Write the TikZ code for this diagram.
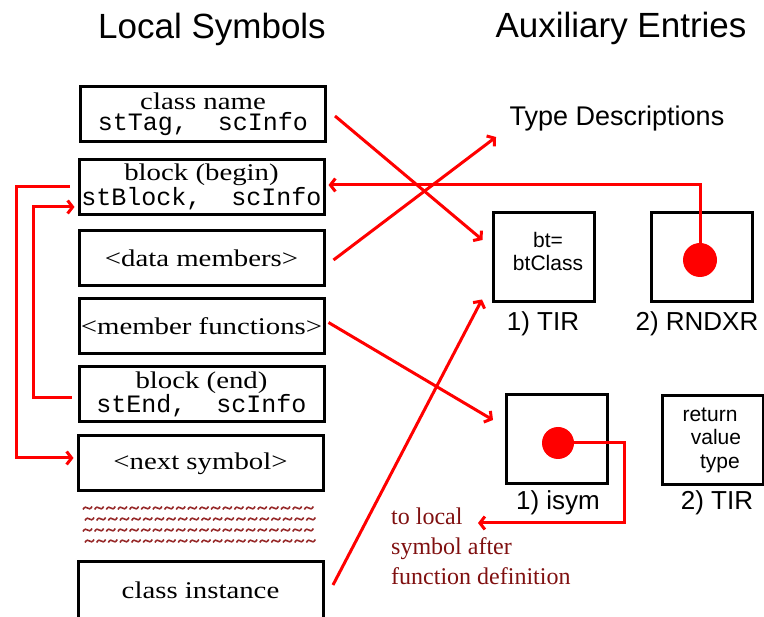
\documentclass[tikz,border=0pt]{standalone}
\usepackage{fontspec}
\setmainfont[FakeStretch=1.2]{Liberation Serif}
\newfontfamily\notefont{Liberation Serif}
\newfontfamily\hfont{Liberation Sans}
\setmonofont{Liberation Mono}
\usetikzlibrary{arrows.meta}
\definecolor{notered}{RGB}{128,16,16}
\definecolor{wavered}{RGB}{150,40,40}
\tikzset{
  lbox/.style={draw, line width=3pt, minimum width=245pt, minimum height=55pt, inner sep=0pt, align=center, font=\fontsize{24}{21}\selectfont},
  abox/.style={draw, line width=3pt, minimum width=101pt, minimum height=89pt, inner sep=0pt},
  head/.style={font=\hfont\fontsize{35}{40}\selectfont, inner sep=0pt},
  lab/.style={font=\hfont\fontsize{26}{30}\selectfont, inner sep=0pt},
  atxt/.style={font=\hfont\fontsize{21}{23.5}\selectfont, inner sep=0pt, align=center},
  rl/.style={draw=red, line width=3pt},
  tip/.style={-{Straight Barb[length=5pt,width=13pt]}},
  dot/.style={circle, fill=red, inner sep=0pt}
}
\newcommand{\mt}[1]{{\ttfamily\fontsize{25}{21}\selectfont #1}}
\begin{document}
\begin{tikzpicture}[x=1pt,y=-1pt]
\useasboundingbox (0,0) rectangle (764,617);
\clip (0,0) rectangle (764,617);
% headings
\node[head] (h1) at (212,29) {Local Symbols};
\node[head] (h2) at (621,28) {Auxiliary Entries};
% local symbol boxes
\node[lbox] (cn) at (203,114) {class name\\\mt{stTag,~~scInfo}};
\node[lbox] (bb) at (201.5,187) {block (begin)\\\mt{stBlock,~~scInfo}};
\node[lbox] (dm) at (201.5,258) {<data members>};
\node[lbox] (mf) at (201.5,326.5) {<member functions>};
\node[lbox] (be) at (201.5,394.5) {block (end)\\\mt{stEnd,~~scInfo}};
\node[lbox] (ns) at (200.5,463.5) {<next symbol>};
\node[lbox, minimum height=68pt] (ci) at (200.5,596) {\raisebox{12pt}{class instance}};
% wavy separator
\foreach \yy/\xo in {508/83,519/85,530/83,541/85}{
  \foreach \i in {0,...,19}{
    \pgfmathsetmacro{\xx}{\xo+\i*11.65}
    \draw[wavered, line width=1.6pt] (\xx,\yy+1.5) .. controls (\xx+3.5,\yy-5) and (\xx+5.5,\yy+5) .. (\xx+9,\yy-1.5);
  }
}
% auxiliary entries
\node[font=\hfont\fontsize{27}{30}\selectfont, inner sep=0pt] (td) at (617,119) {Type Descriptions};
\node[abox] (tir) at (544,257) {};
\node[atxt] (tirtxt) at (548,251.5) {bt=\\btClass};
\node[lab] (tirlab) at (543,324) {1) TIR};
\node[abox] (rnd) at (701.5,257) {};
\node[dot, minimum size=34pt] (rdot) at (700,260) {};
\node[lab] (rndlab) at (697,324) {2) RNDXR};
\node[abox] (isym) at (556.5,439) {};
\node[dot, minimum size=32pt] (idot) at (558,443) {};
\node[lab] (isymlab) at (558,503) {1) isym};
\node[abox] (ret) at (713,440) {};
\node[atxt] (rettxt) at (710,440) {return\\\hspace*{12pt}value\\\hspace*{20pt}type};
\node[lab] (retlab) at (717,503) {2) TIR};
% note
\node[font=\notefont\fontsize{24}{30}\selectfont, text=notered, align=left, inner sep=0pt, anchor=north west] (note) at (391,508) {to local\\symbol after\\function definition};
\coordinate (noteptr) at (478,523);
% connectors
\draw[rl, tip] ([shift={(8,2)}]cn.east) -- ([shift={(-9.5,-17)}]tir.west);
\draw[rl, tip] ([shift={(8,2)}]dm.east) -- ([shift={(-13.5,18)}]td.west);
\draw[rl, tip] ([shift={(3,-4)}]mf.east) -- ([shift={(-11.5,-19)}]isym.west);
\draw[rl, tip] ([shift={(8.5,-11)}]ci.east) -- ([shift={(-10,-3.5)}]tir.south west);
\draw[rl, tip] (rdot.center) |- ([shift={(3,-2)}]bb.east);
\draw[rl, tip] (idot.center) -- ++(66,0) |- (noteptr);
\draw[rl, tip] ([shift={(-8,0)}]bb.west) -- ++(-53,0) |- ([shift={(-3,-5.5)}]ns.west);
\draw[rl, tip] ([shift={(-6,3.5)}]be.west) -- ++(-38,0) |- ([shift={(-3,20)}]bb.west);
\end{tikzpicture}
\end{document}
